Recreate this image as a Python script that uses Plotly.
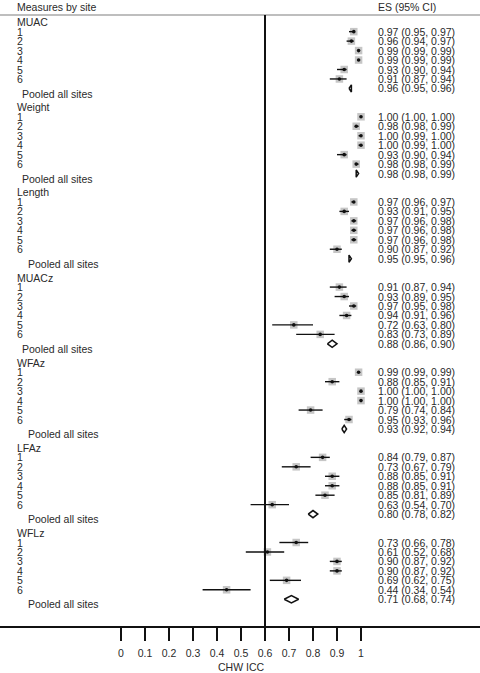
import plotly.graph_objects as go

# ---------------- data ----------------
groups = ["MUAC", "Weight", "Length", "MUACz", "WFAz", "LFAz", "WFLz"]
sites = ["1", "2", "3", "4", "5", "6"]
pooled_label = "Pooled all sites"

es = [
    [0.97, 0.96, 0.99, 0.99, 0.93, 0.91],
    [1.00, 0.98, 1.00, 1.00, 0.93, 0.98],
    [0.97, 0.93, 0.97, 0.97, 0.97, 0.90],
    [0.91, 0.93, 0.97, 0.94, 0.72, 0.83],
    [0.99, 0.88, 1.00, 1.00, 0.79, 0.95],
    [0.84, 0.73, 0.88, 0.88, 0.85, 0.63],
    [0.73, 0.61, 0.90, 0.90, 0.69, 0.44],
]
lo = [
    [0.95, 0.94, 0.99, 0.99, 0.90, 0.87],
    [1.00, 0.98, 0.99, 0.99, 0.90, 0.98],
    [0.96, 0.91, 0.96, 0.96, 0.96, 0.87],
    [0.87, 0.89, 0.95, 0.91, 0.63, 0.73],
    [0.99, 0.85, 1.00, 1.00, 0.74, 0.93],
    [0.79, 0.67, 0.85, 0.85, 0.81, 0.54],
    [0.66, 0.52, 0.87, 0.87, 0.62, 0.34],
]
hi = [
    [0.97, 0.97, 0.99, 0.99, 0.94, 0.94],
    [1.00, 0.99, 1.00, 1.00, 0.94, 0.99],
    [0.97, 0.95, 0.98, 0.98, 0.98, 0.92],
    [0.94, 0.95, 0.98, 0.96, 0.80, 0.89],
    [0.99, 0.91, 1.00, 1.00, 0.84, 0.96],
    [0.87, 0.79, 0.91, 0.91, 0.89, 0.70],
    [0.78, 0.68, 0.92, 0.92, 0.75, 0.54],
]
pooled_es = [0.96, 0.98, 0.95, 0.88, 0.93, 0.80, 0.71]
pooled_lo = [0.95, 0.98, 0.95, 0.86, 0.92, 0.78, 0.68]
pooled_hi = [0.96, 0.99, 0.96, 0.90, 0.94, 0.82, 0.74]

ref_line = 0.6
tick_vals = [0, 0.1, 0.2, 0.3, 0.4, 0.5, 0.6, 0.7, 0.8, 0.9, 1]
tick_text = ["0", "0.1", "0.2", "0.3", "0.4", "0.5", "0.6", "0.7", "0.8", "0.9", "1"]
x_title = "CHW ICC"
left_header = "Measures by site"
right_header = "ES (95% CI)"

# ---------------- geometry ----------------
W, H = 480, 673
AXIS_Y = 626          # pixel y of the x axis line
ROW0 = 22.2           # pixel y of the first row
ROWH = 9.46           # pixel height of one row
X0PIX, XSCALE = 121, 240  # pixel of value 0, pixels per unit
LEFT_X = 15           # left text column (pixels)
RIGHT_X = 376         # right text column (pixels)

FONT = "Liberation Sans, Arial, sans-serif"
FS = 10.5
TXT = "#2a2a2a"


def paper_y(pix):
    return (AXIS_Y - pix) / AXIS_Y


def fmt(e, l, h):
    return f"{e:.2f} ({l:.2f}, {h:.2f})"


fig = go.Figure()

sq_x, sq_y = [], []
ci_x, ci_y = [], []
dia_x, dia_y = [], []
annotations = []

for g, name in enumerate(groups):
    base = 9 * g
    annotations.append(dict(x=LEFT_X / W, xref="paper", y=base, yref="y", text=name,
                            xanchor="left", yanchor="middle", showarrow=False))
    for s in range(6):
        r = base + 1 + s
        e, l, h = es[g][s], lo[g][s], hi[g][s]
        sq_x.append(e)
        sq_y.append(r)
        ci_x += [l, h, None]
        ci_y += [r, r, None]
        annotations.append(dict(x=LEFT_X / W, xref="paper", y=r, yref="y", text=sites[s],
                                xanchor="left", yanchor="middle", showarrow=False))
        annotations.append(dict(x=RIGHT_X / W, xref="paper", y=r, yref="y", text=fmt(e, l, h),
                                xanchor="left", yanchor="middle", showarrow=False))
    r = base + 7
    pe, pl, ph = pooled_es[g], pooled_lo[g], pooled_hi[g]
    hh = 0.38
    dia_x += [pl, pe, ph, pe, pl, None]
    dia_y += [r, r - hh, r, r + hh, r, None]
    annotations.append(dict(x=RIGHT_X / W, xref="paper", y=r, yref="y", text=fmt(pe, pl, ph),
                            xanchor="left", yanchor="middle", showarrow=False))
    annotations.append(dict(x=(LEFT_X + (5 if g in (0, 1, 3) else 10.5)) / W, xref="paper",
                            y=r + 0.55, yref="y", text=pooled_label,
                            xanchor="left", yanchor="middle", showarrow=False))

# gray squares
fig.add_trace(go.Scatter(x=sq_x, y=sq_y, mode="markers",
                         marker=dict(symbol="square", size=7.5, color="#c6c6c6",
                                     line=dict(width=0)),
                         hoverinfo="skip", showlegend=False))
# CI lines
fig.add_trace(go.Scatter(x=ci_x, y=ci_y, mode="lines",
                         line=dict(color="#111111", width=1.4),
                         hoverinfo="skip", showlegend=False))
# point estimates
fig.add_trace(go.Scatter(x=sq_x, y=sq_y, mode="markers",
                         marker=dict(symbol="circle", size=3.6, color="#111111"),
                         hoverinfo="skip", showlegend=False))
# pooled diamonds
fig.add_trace(go.Scatter(x=dia_x, y=dia_y, mode="lines",
                         line=dict(color="#111111", width=1.5),
                         hoverinfo="skip", showlegend=False))

# headers
annotations.append(dict(x=LEFT_X / W, xref="paper", y=paper_y(7), yref="paper", text=left_header,
                        xanchor="left", yanchor="middle", showarrow=False))
annotations.append(dict(x=RIGHT_X / W, xref="paper", y=paper_y(7), yref="paper", text=right_header,
                        xanchor="left", yanchor="middle", showarrow=False))
# x title
annotations.append(dict(x=241 / W, xref="paper", y=paper_y(667), yref="paper", text=x_title,
                        xanchor="center", yanchor="middle", showarrow=False))

shapes = [
    # header separator
    dict(type="line", xref="paper", yref="paper", x0=0, x1=1,
         y0=paper_y(15), y1=paper_y(15), line=dict(color="#a8a8a8", width=1.5)),
    # reference line
    dict(type="line", xref="x", yref="paper", x0=ref_line, x1=ref_line,
         y0=0, y1=paper_y(15), line=dict(color="#111111", width=2)),
]

y_top = (0 - ROW0) / ROWH
y_bot = (AXIS_Y - ROW0) / ROWH

fig.update_layout(
    width=W, height=H,
    margin=dict(l=0, r=0, t=0, b=H - AXIS_Y, pad=0),
    paper_bgcolor="white", plot_bgcolor="white",
    font=dict(family=FONT, size=FS, color=TXT),
    annotations=annotations,
    shapes=shapes,
    xaxis=dict(range=[-X0PIX / XSCALE, (W - X0PIX) / XSCALE],
               showgrid=False, zeroline=False,
               showline=True, linecolor="#111111", linewidth=1.6,
               ticks="outside", ticklen=13, tickwidth=1.6, tickcolor="#111111",
               tickvals=tick_vals, ticktext=tick_text,
               tickfont=dict(family=FONT, size=FS, color=TXT),
               ticklabelstandoff=4,
               fixedrange=True),
    yaxis=dict(range=[y_bot, y_top], showgrid=False, zeroline=False,
               showticklabels=False, showline=False, fixedrange=True),
    showlegend=False,
)

fig.write_html(
    "out.html",
    config={"displayModeBar": False},
    post_script="document.body.style.margin='0';document.body.style.overflow='hidden';",
)
